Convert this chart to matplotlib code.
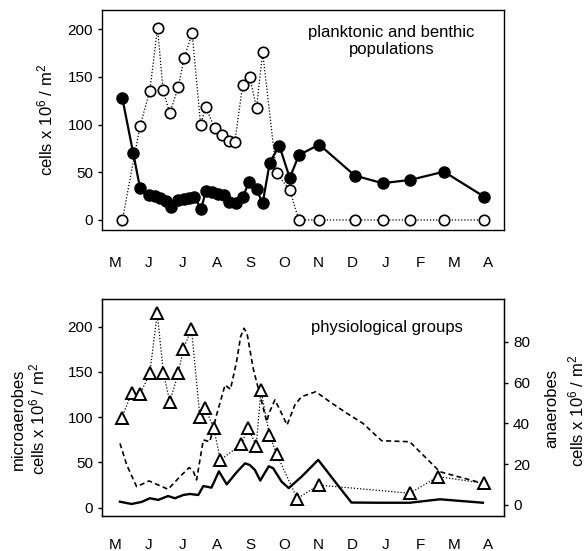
import numpy as np
import matplotlib
matplotlib.use("Agg")
import matplotlib.pyplot as plt

plt.rcParams["font.family"] = ["Liberation Sans", "DejaVu Sans"]
plt.rcParams["mathtext.default"] = "regular"

# month labels, May to April (x axis is in months from mid May)
months = ["M", "J", "J", "A", "S", "O", "N", "D", "J", "F", "M", "A"]

# top panel: filled circles (solid line) and open circles (dotted line)
filled_x = [0.22, 0.54, 0.74, 1.01, 1.18, 1.33, 1.50, 1.65, 1.87, 2.04, 2.18, 2.33,
            2.55, 2.68, 2.87, 3.05, 3.22, 3.36, 3.56, 3.78, 3.96, 4.18, 4.36, 4.57,
            4.85, 5.16, 5.43, 6.03, 7.08, 7.90, 8.72, 9.71, 10.89]
filled_y = [127.5, 70, 34, 26, 25, 23, 20, 14, 21, 22, 23, 24,
            12, 30, 29, 27, 26, 19, 17.5, 24.5, 40, 32, 17.5, 60,
            78, 44, 68, 79, 46.5, 38.5, 42, 50.6, 24.5]

open_x = [0.22, 0.74, 1.03, 1.26, 1.42, 1.62, 1.87, 2.04, 2.28, 2.53, 2.68, 2.94,
          3.15, 3.37, 3.54, 3.77, 3.98, 4.18, 4.36, 4.77, 5.16, 5.43, 6.03, 7.08,
          7.90, 8.72, 9.71, 10.89]
open_y = [0, 98, 135.5, 201, 136, 112, 139, 169.5, 195.7, 99.6, 118.8, 96,
          89, 83, 82, 141.5, 149.5, 117.7, 175.8, 49, 31.4, 0, 0, 0,
          0, 0, 0, 0]

# bottom panel: microaerobes (triangles, left axis)
micro_x = [0.20, 0.49, 0.74, 1.03, 1.25, 1.43, 1.62, 1.87, 2.02, 2.26, 2.51, 2.66,
           2.92, 3.11, 3.73, 3.93, 4.17, 4.31, 4.56, 4.77, 5.38, 6.01, 8.70, 9.54,
           10.89]
micro_y = [98.8, 126.4, 125.3, 148.5, 214.8, 149.2, 117.1, 148.5, 175.4, 197.5, 99.9, 110.5,
           87.7, 52.7, 70, 88.3, 68.5, 130, 80.3, 59.7, 10, 25, 16, 34.3,
           27]

# anaerobes (right axis): dashed and solid curves
dash_x = [0.15, 0.35, 0.64, 1.01, 1.28, 1.57, 1.92, 2.19, 2.31, 2.41, 2.61, 2.80,
          3.00, 3.25, 3.41, 3.59, 3.71, 3.81, 3.90, 4.08, 4.28, 4.48, 4.55, 4.72,
          4.87, 5.08, 5.31, 5.51, 5.93, 6.34, 6.84, 7.32, 7.87, 8.70, 9.59, 10.86]
dash_y = [30.2, 19.6, 9.0, 11.8, 9.8, 7.7, 13.9, 18.3, 16.7, 12.3, 31.9, 31.0,
          44.1, 58.8, 56.7, 70.2, 82.5, 86.6, 84, 67, 53.9, 40.8, 45, 51.5,
          46.6, 39.2, 49, 53.1, 55.5, 50.6, 45, 40, 31.5, 31, 16.3, 10.6]

solid_x = [0.15, 0.49, 0.79, 1.03, 1.28, 1.57, 1.77, 2.02, 2.21, 2.46, 2.61, 2.85,
           3.07, 3.30, 3.59, 3.84, 3.98, 4.13, 4.29, 4.54, 4.67, 4.92, 5.13, 5.51,
           6.00, 6.54, 6.98, 7.82, 8.70, 9.59, 10.86]
solid_y = [1.6, 0.5, 1.5, 3.3, 2.5, 4.4, 3.3, 4.9, 5.4, 4.9, 9.3, 8.5,
           16.5, 10.1, 16, 20.4, 19.6, 17.2, 12.0, 19, 18, 11.4, 8.3, 13.9,
           22.1, 10.5, 1.2, 1.1, 1.1, 2.8, 1.1]

fig = plt.figure(figsize=(5.85, 5.51), dpi=100)
ax1 = fig.add_axes([0.1744, 0.5826, 0.687, 0.3993])
ax2 = fig.add_axes([0.1744, 0.0635, 0.687, 0.3933])
ax3 = ax2.twinx()

tick_fs = 11

# top panel
ax1.plot(open_x, open_y, linestyle=(0, (1, 1.5)), color="black", lw=0.9,
         marker="o", ms=7.5, mfc="white", mec="black", mew=1.2, zorder=2)
ax1.plot(filled_x, filled_y, "-", color="black", lw=1.6,
         marker="o", ms=8, mfc="black", mec="black", zorder=3)
ax1.set_ylim(-10.5, 220)
ax1.set_yticks([0, 50, 100, 150, 200])
ax1.text(0.72, 0.86, "planktonic and benthic\npopulations", transform=ax1.transAxes,
         ha="center", va="center", fontsize=12)

# bottom panel
ax3.plot(dash_x, dash_y, linestyle=(0, (3, 2)), color="black", lw=1.2)
ax3.plot(solid_x, solid_y, "-", color="black", lw=1.7)
ax2.plot(micro_x, micro_y, linestyle=(0, (1, 1.5)), color="black", lw=0.9,
         marker="^", ms=8.5, mfc="white", mec="black", mew=1.4)
ax2.set_zorder(ax3.get_zorder() + 1)
ax2.patch.set_visible(False)
ax2.set_ylim(-9.2, 230.3)
ax2.set_yticks([0, 50, 100, 150, 200])
ax3.set_ylim(-5.4, 100.8)
ax3.set_yticks([0, 20, 40, 60, 80])
ax2.text(0.71, 0.87, "physiological groups", transform=ax2.transAxes,
         ha="center", va="center", fontsize=12)

for ax, pad in [(ax1, 19), (ax2, 16)]:
    ax.set_xlim(-0.38, 11.48)
    ax.set_xticks(range(len(months)))
    ax.set_xticklabels(months)
    ax.tick_params(axis="x", length=0, pad=pad, labelsize=tick_fs)
    ax.tick_params(axis="y", direction="out", length=3, width=1, labelsize=tick_fs)
    for s in ax.spines.values():
        s.set_linewidth(1.0)
ax3.tick_params(axis="y", direction="out", length=3, width=1, labelsize=tick_fs)

# axis titles placed at pixel centres
W, H = 585, 551
def ftext(x, y, s):
    fig.text(x / W, 1 - y / H, s, rotation=90, ha="center", va="center", fontsize=12)

ftext(45, 120, "cells x 10$^6$ / m$^2$")
ftext(18, 419, "microaerobes")
ftext(37, 419, "cells x 10$^6$ / m$^2$")
ftext(552, 409, "anaerobes")
ftext(576, 411, "cells x 10$^6$ / m$^2$")

fig.savefig("out.png", dpi=100)
